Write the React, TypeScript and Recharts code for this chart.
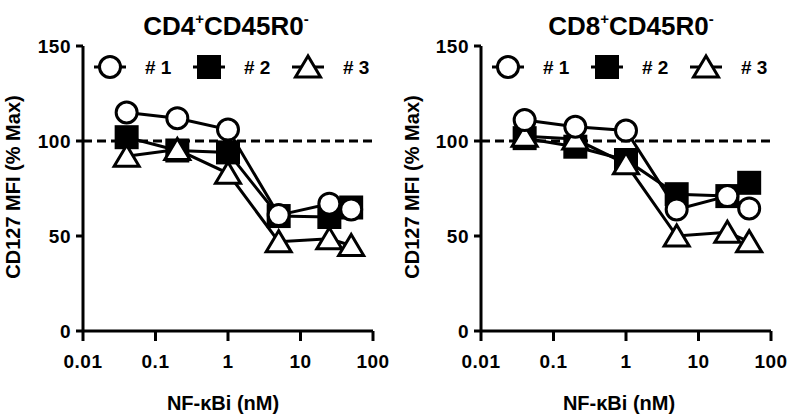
import React from "react";
import { LineChart, Line, XAxis, YAxis, ReferenceLine } from "recharts";

// NF-kBi concentrations (nM)
const DOSES = [0.04, 0.2, 1, 5, 25, 50];

// CD4+CD45R0- donors
const CD4_D1 = [115, 112, 106, 61, 67, 64];
const CD4_D2 = [102, 95, 94, 60.5, 60, 65];
const CD4_D3 = [92, 95.5, 83, 47, 48.5, 45];

// CD8+CD45R0- donors
const CD8_D1 = [111, 107.5, 105.5, 64, 71, 64.5];
const CD8_D2 = [101.5, 97, 90, 72, 71, 78];
const CD8_D3 = [102.5, 101, 88, 50, 52, 47];

const X_TICKS = [0.01, 0.1, 1, 10, 100];
const Y_TICKS = [0, 50, 100, 150];
const LEGEND = ["# 1", "# 2", "# 3"];

const FONT = "'Liberation Sans', Arial, sans-serif";
const W = 395;
const H = 420;

type Shape = "circle" | "square" | "triangle";

function Marker({ shape, cx, cy }: { shape: Shape; cx: number; cy: number }) {
  if (shape === "circle")
    return <circle cx={cx} cy={cy} r={10.5} fill="#fff" stroke="#000" strokeWidth={3} />;
  if (shape === "square")
    return <rect x={cx - 12} y={cy - 12} width={24} height={24} fill="#000" />;
  return (
    <polygon
      points={`${cx},${cy - 11} ${cx - 12.5},${cy + 10} ${cx + 12.5},${cy + 10}`}
      fill="#fff"
      stroke="#000"
      strokeWidth={3}
    />
  );
}

const dotFor = (shape: Shape) => (p: any) =>
  <Marker key={`${shape}-${p.index}`} shape={shape} cx={p.cx} cy={p.cy} />;

function Panel({ left, d1, d2, d3 }: { left: number; d1: number[]; d2: number[]; d3: number[] }) {
  const rows = DOSES.map((x, i) => ({ x, d1: d1[i], d2: d2[i], d3: d3[i] }));
  const tick = { fill: "#000", fontSize: 19, fontWeight: 700, fontFamily: FONT, letterSpacing: 0.5 };
  const ax = { stroke: "#000", strokeWidth: 3 };
  return (
    <div style={{ position: "absolute", left, top: 0 }}>
      <LineChart width={W} height={H} data={rows} margin={{ top: 46, right: 22, bottom: 49, left: 0 }}>
        <XAxis
          dataKey="x"
          type="number"
          scale="log"
          domain={[0.01, 100]}
          ticks={X_TICKS}
          allowDataOverflow
          height={40}
          tick={tick}
          tickSize={10}
          tickMargin={14}
          axisLine={ax}
          tickLine={ax}
          tickFormatter={(v: number) => String(v)}
        />
        <YAxis
          type="number"
          domain={[0, 150]}
          ticks={Y_TICKS}
          width={83}
          tick={tick}
          tickSize={7}
          tickMargin={5}
          axisLine={ax}
          tickLine={ax}
        />
        <ReferenceLine y={100} stroke="#000" strokeWidth={3} strokeDasharray="9 5" />
        <Line dataKey="d2" stroke="#000" strokeWidth={3} dot={dotFor("square")} isAnimationActive={false} />
        <Line dataKey="d3" stroke="#000" strokeWidth={3} dot={dotFor("triangle")} isAnimationActive={false} />
        <Line dataKey="d1" stroke="#000" strokeWidth={3} dot={dotFor("circle")} isAnimationActive={false} />
      </LineChart>
    </div>
  );
}

function Overlay({ plotLeft, title, cellType, labelX, titleX, yLabelX }: any) {
  const shapes: Shape[] = ["circle", "square", "triangle"];
  return (
    <g fontFamily={FONT} fontWeight={700} fill="#000">
      <text x={titleX} y={35} fontSize={26} textAnchor="middle">
        {title}
        <tspan fontSize={15} dy={-11}>+</tspan>
        <tspan dy={11}>{cellType}</tspan>
        <tspan fontSize={15} dy={-11}>-</tspan>
      </text>
      <text
        x={yLabelX}
        y={187}
        fontSize={20}
        textAnchor="middle"
        dominantBaseline="central"
        transform={`rotate(-90 ${yLabelX} 187)`}
      >
        CD127 MFI (% Max)
      </text>
      <text x={labelX} y={410} fontSize={20} textAnchor="middle">
        NF-κBi (nM)
      </text>
      {shapes.map((s, i) => {
        const cx = plotLeft + 27 + i * 99;
        return (
          <g key={s}>
            <line x1={cx - 16} x2={cx + 16} y1={67} y2={67} stroke="#000" strokeWidth={3} />
            <Marker shape={s} cx={cx} cy={67} />
            <text x={cx + 35} y={74} fontSize={19}>
              {LEGEND[i]}
            </text>
          </g>
        );
      })}
    </g>
  );
}

export default function App() {
  return (
    <div style={{ position: "absolute", left: 0, top: 0, width: 791, height: 420, background: "#fff" }}>
      <Panel left={0} d1={CD4_D1} d2={CD4_D2} d3={CD4_D3} />
      <Panel left={398} d1={CD8_D1} d2={CD8_D2} d3={CD8_D3} />
      <svg width={791} height={420} style={{ position: "absolute", left: 0, top: 0, pointerEvents: "none" }}>
        <Overlay plotLeft={83} title="CD4" cellType="CD45R0" titleX={226} labelX={223} yLabelX={13} />
        <Overlay plotLeft={481} title="CD8" cellType="CD45R0" titleX={631} labelX={619} yLabelX={412} />
      </svg>
    </div>
  );
}
